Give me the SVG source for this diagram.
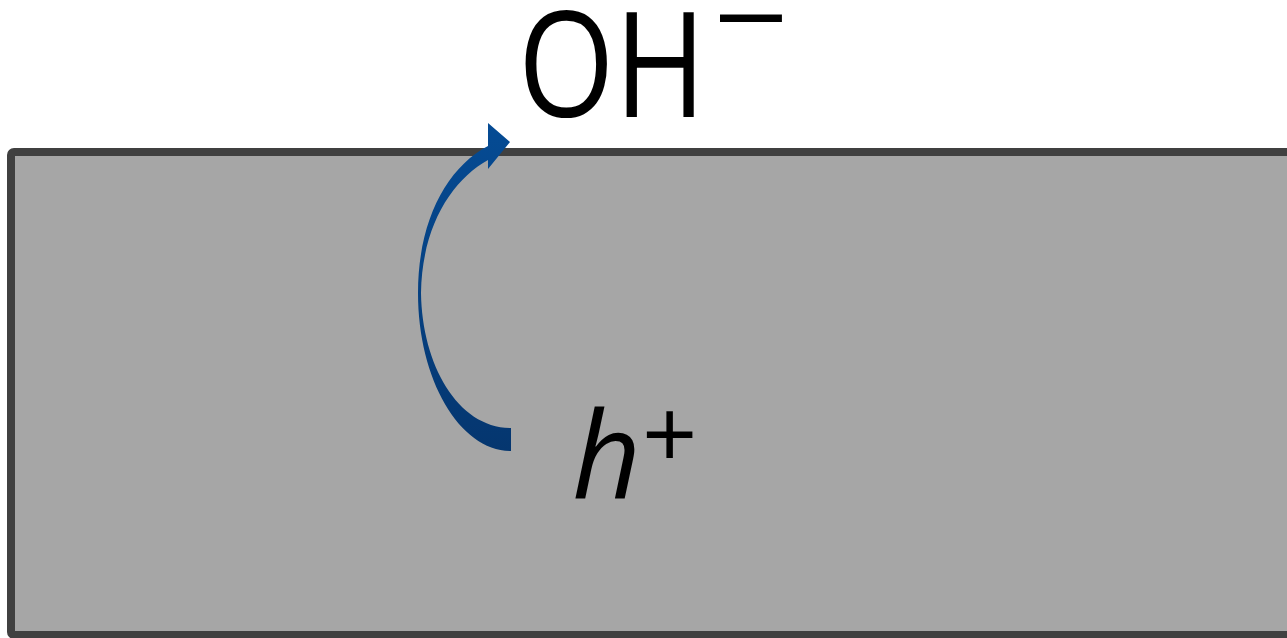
<svg xmlns="http://www.w3.org/2000/svg" width="1287" height="638" viewBox="0 0 1287 638">
<style>
.lbl{font-family:"Open Sans","Liberation Sans",sans-serif;fill:#000}
</style>
<defs>
<linearGradient id="ag" x1="0" y1="0" x2="0" y2="1">
<stop offset="0" stop-color="#054b94"/>
<stop offset="1" stop-color="#05366f"/>
</linearGradient>
</defs>
<rect width="1287" height="638" fill="#fff"/>
<g id="slab">
<rect x="11" y="152" width="1290" height="483" rx="3" fill="#a6a6a6" stroke="#404040" stroke-width="8"/>
</g>
<g id="connectors">
<path d="M511 451 C460 451 418 380 418 293 C418 222 446 168 488 146 L488 123 L510 142 L488 169 L488 160 C452 180 422 226 421 293 C422 365 458 428 511 428 Z" fill="url(#ag)"/>
</g>
<g id="oh">
<text class="lbl" x="518" y="117" font-size="146" textLength="188" lengthAdjust="spacingAndGlyphs">OH</text>
<text x="720" y="47" font-family="Liberation Sans, sans-serif" font-size="112" textLength="62" lengthAdjust="spacingAndGlyphs">–</text>
</g>
<g id="h">
<text class="lbl" x="572" y="499" font-size="120" font-style="italic">h</text>
<text class="lbl" x="642" y="469" font-size="97">+</text>
</g>
</svg>
